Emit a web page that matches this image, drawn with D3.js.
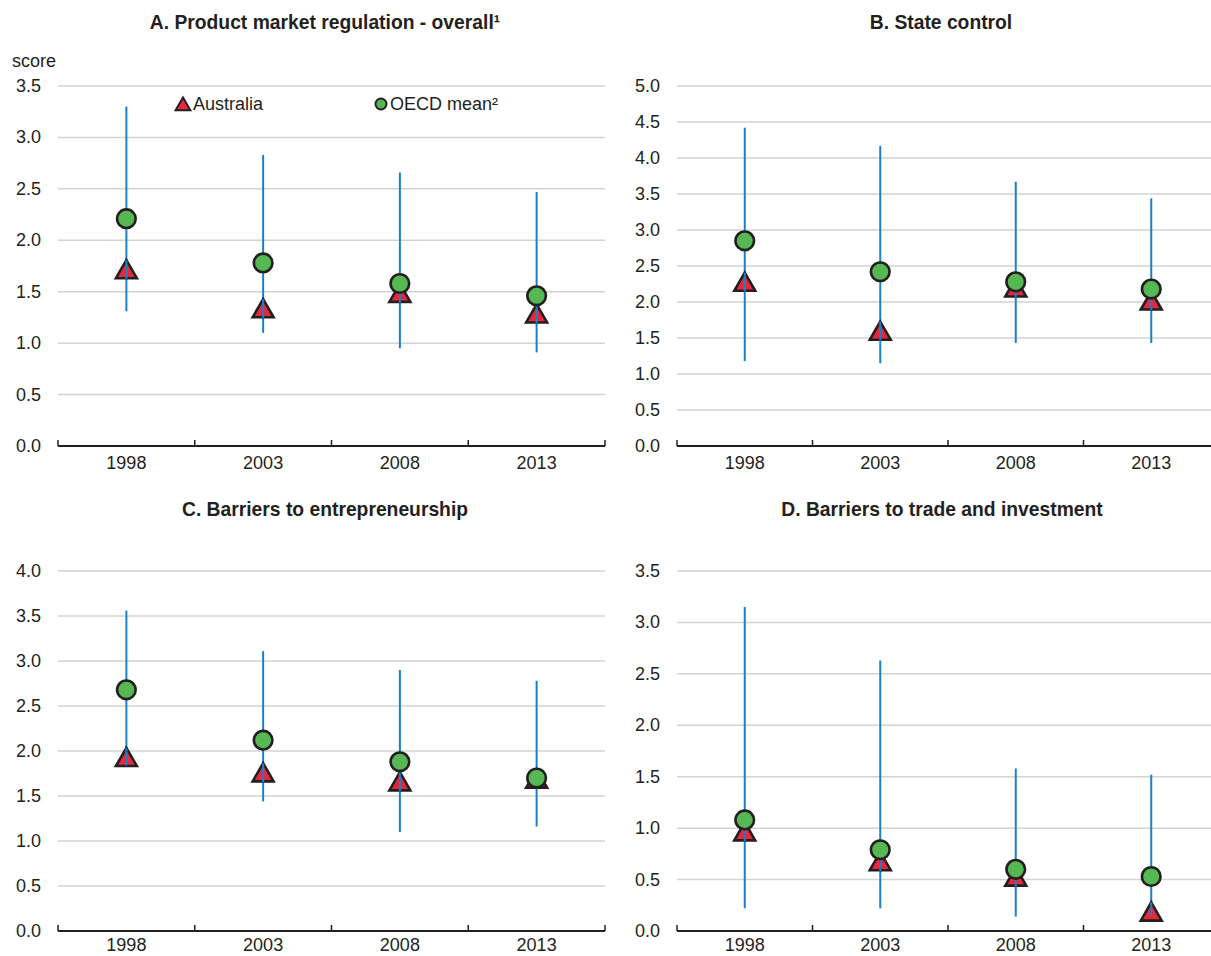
<!DOCTYPE html>
<html>
<head>
<meta charset="utf-8">
<script src="https://cdn.jsdelivr.net/npm/d3@7"></script>
<style>
  body { margin: 0; background: #fff; }
  svg { display: block; }
  .tick-label, .legend-label, .unit { font-family: "Liberation Sans Narrow", "Arial Narrow", "Liberation Sans", sans-serif; font-size: 18px; fill: #231f20; }
  .title { font-family: "Liberation Sans Narrow", "Arial Narrow", "Liberation Sans", sans-serif; font-size: 19.3px; font-weight: bold; fill: #231f20; }
</style>
</head>
<body>
<div id="chart"></div>
<script>
var years = ["1998", "2003", "2008", "2013"];

// A. Product market regulation - overall
var audA = [1.69, 1.31, 1.46, 1.26];
var oecdA = [2.21, 1.78, 1.58, 1.46];
var minA = [1.31, 1.10, 0.95, 0.91];
var maxA = [3.30, 2.83, 2.66, 2.47];

// B. State control
var audB = [2.24, 1.56, 2.16, 1.98];
var oecdB = [2.85, 2.42, 2.28, 2.18];
var minB = [1.18, 1.15, 1.43, 1.43];
var maxB = [4.42, 4.17, 3.67, 3.44];

// C. Barriers to entrepreneurship
var audC = [1.90, 1.73, 1.63, 1.66];
var oecdC = [2.68, 2.12, 1.88, 1.70];
var minC = [1.84, 1.44, 1.10, 1.16];
var maxC = [3.56, 3.11, 2.90, 2.78];

// D. Barriers to trade and investment
var audD = [0.94, 0.65, 0.50, 0.16];
var oecdD = [1.08, 0.79, 0.60, 0.53];
var minD = [0.22, 0.22, 0.14, 0.15];
var maxD = [3.15, 2.63, 1.58, 1.52];

var ticksA = [0, 0.5, 1, 1.5, 2, 2.5, 3, 3.5];
var ticksB = [0, 0.5, 1, 1.5, 2, 2.5, 3, 3.5, 4, 4.5, 5];
var ticksC = [0, 0.5, 1, 1.5, 2, 2.5, 3, 3.5, 4];
var ticksD = [0, 0.5, 1, 1.5, 2, 2.5, 3, 3.5];

var panels = [
  { title: "A. Product market regulation - overall\u00b9", aus: audA, oecd: oecdA, lo: minA, hi: maxA, ticks: ticksA,
    x0: 58, x1: 605, top: 86, bottom: 446, titleX: 325, titleY: 29, labDy: 23, legend: true, unit: true },
  { title: "B. State control", aus: audB, oecd: oecdB, lo: minB, hi: maxB, ticks: ticksB,
    x0: 677, x1: 1219, top: 86, bottom: 446, titleX: 941, titleY: 29, labDy: 23 },
  { title: "C. Barriers to entrepreneurship", aus: audC, oecd: oecdC, lo: minC, hi: maxC, ticks: ticksC,
    x0: 58, x1: 605, top: 571, bottom: 931, titleX: 325, titleY: 516, labDy: 20 },
  { title: "D. Barriers to trade and investment", aus: audD, oecd: oecdD, lo: minD, hi: maxD, ticks: ticksD,
    x0: 677, x1: 1219, top: 571, bottom: 931, titleX: 942, titleY: 516, labDy: 20 }
];

var svg = d3.select("#chart").append("svg")
  .attr("width", 1211)
  .attr("height", 956);

var tri = d3.symbol().type(d3.symbolTriangle).size(190);
var triSmall = d3.symbol().type(d3.symbolTriangle).size(95);

panels.forEach(function(p) {
  var x = d3.scaleBand().domain(years).range([p.x0, p.x1]);
  var y = d3.scaleLinear().domain([0, d3.max(p.ticks)]).range([p.bottom, p.top]);
  var g = svg.append("g");

  g.append("text")
    .attr("class", "title")
    .attr("x", p.titleX)
    .attr("y", p.titleY)
    .attr("text-anchor", "middle")
    .text(p.title);

  // gridlines
  g.selectAll(".grid")
    .data(p.ticks.filter(function(t) { return t > 0; }))
    .enter().append("line")
    .attr("x1", p.x0).attr("x2", p.x1)
    .attr("y1", function(d) { return y(d); })
    .attr("y2", function(d) { return y(d); })
    .attr("stroke", "#d3d3d3")
    .attr("stroke-width", 1.5);

  // y tick labels
  g.selectAll(".tick-label.y")
    .data(p.ticks)
    .enter().append("text")
    .attr("class", "tick-label")
    .attr("x", p.x0 - 17)
    .attr("y", function(d) { return y(d) + 6; })
    .attr("text-anchor", "end")
    .text(function(d) { return d3.format(".1f")(d); });

  // x axis
  g.append("line")
    .attr("x1", p.x0).attr("x2", p.x1)
    .attr("y1", p.bottom).attr("y2", p.bottom)
    .attr("stroke", "#231f20").attr("stroke-width", 2);
  var bounds = years.map(function(d) { return x(d); }).concat([p.x1]);
  g.selectAll(".xtick")
    .data(bounds)
    .enter().append("line")
    .attr("x1", function(d) { return d; }).attr("x2", function(d) { return d; })
    .attr("y1", p.bottom).attr("y2", p.bottom - 6)
    .attr("stroke", "#231f20").attr("stroke-width", 1.5);
  g.selectAll(".xlab")
    .data(years)
    .enter().append("text")
    .attr("class", "tick-label")
    .attr("x", function(d) { return x(d) + x.bandwidth() / 2; })
    .attr("y", p.bottom + p.labDy)
    .attr("text-anchor", "middle")
    .text(function(d) { return d; });

  var cx = function(d, i) { return x(years[i]) + x.bandwidth() / 2; };

  // min-max ranges
  g.selectAll(".range")
    .data(years)
    .enter().append("line")
    .attr("x1", cx).attr("x2", cx)
    .attr("y1", function(d, i) { return y(p.lo[i]); })
    .attr("y2", function(d, i) { return y(p.hi[i]); })
    .attr("stroke", "#1a80c8").attr("stroke-width", 2);

  // Australia
  g.selectAll(".aus")
    .data(p.aus)
    .enter().append("path")
    .attr("d", tri)
    .attr("transform", function(d, i) { return "translate(" + cx(d, i) + "," + y(d) + ")"; })
    .attr("fill", "#e8263c")
    .attr("stroke", "#231f20")
    .attr("stroke-width", 2.6)
    .attr("stroke-linejoin", "miter");

  // range line stays visible through the triangle
  g.selectAll(".range2")
    .data(years)
    .enter().append("line")
    .attr("x1", cx).attr("x2", cx)
    .attr("y1", function(d, i) { return Math.min(y(p.lo[i]), y(p.aus[i]) + 7); })
    .attr("y2", function(d, i) { return y(p.aus[i]) - 12; })
    .attr("stroke", "#1a80c8").attr("stroke-width", 2);

  // OECD mean
  g.selectAll(".oecd")
    .data(p.oecd)
    .enter().append("circle")
    .attr("cx", cx)
    .attr("cy", function(d) { return y(d); })
    .attr("r", 9.3)
    .attr("fill", "#56b853")
    .attr("stroke", "#231f20")
    .attr("stroke-width", 2.6);

  if (p.unit) {
    g.append("text").attr("class", "unit")
      .attr("x", 12).attr("y", 67).text("score");
  }

  if (p.legend) {
    var lg = g.append("g");
    lg.append("path")
      .attr("d", triSmall)
      .attr("transform", "translate(183,106)")
      .attr("fill", "#e8263c").attr("stroke", "#231f20").attr("stroke-width", 2);
    lg.append("text").attr("class", "legend-label")
      .attr("x", 193).attr("y", 110).text("Australia");
    lg.append("circle")
      .attr("cx", 381).attr("cy", 104).attr("r", 5.5)
      .attr("fill", "#56b853").attr("stroke", "#231f20").attr("stroke-width", 2);
    lg.append("text").attr("class", "legend-label")
      .attr("x", 390).attr("y", 110).text("OECD mean\u00b2");
  }
});
</script>
</body>
</html>
